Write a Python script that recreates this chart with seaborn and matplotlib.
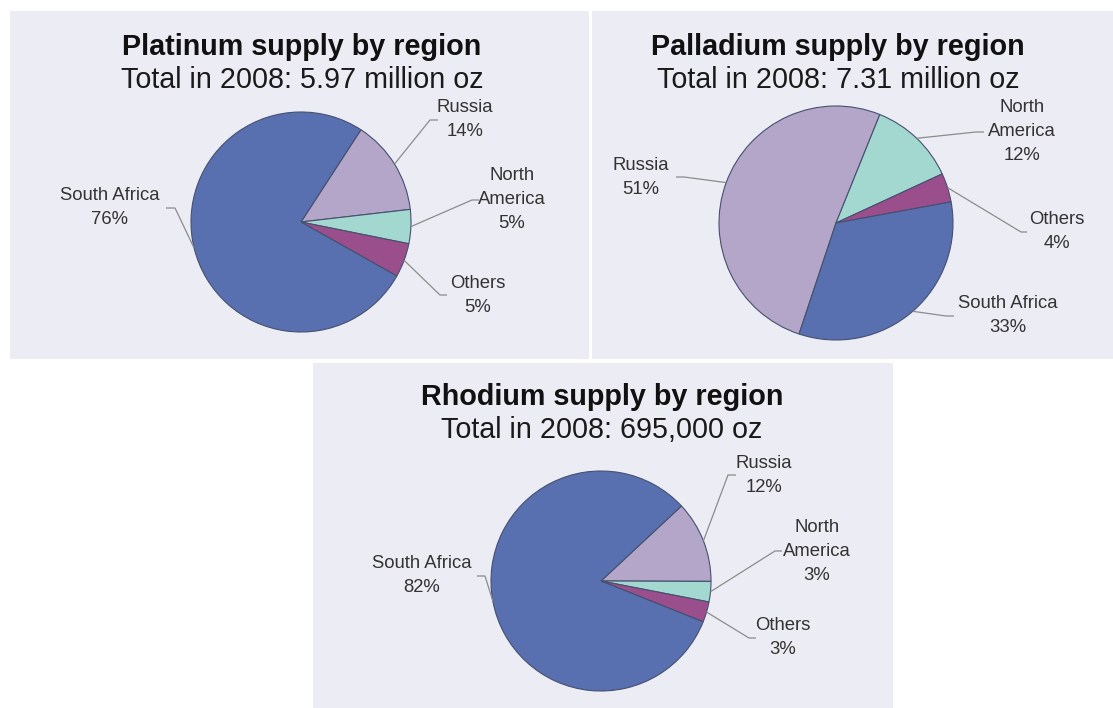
import numpy as np
import matplotlib
matplotlib.use("Agg")
import matplotlib.pyplot as plt
import seaborn as sns

# ---- data -------------------------------------------------------------
regions = ["Russia", "North America", "Others", "South Africa"]
region_labels = ["Russia", "North\nAmerica", "Others", "South Africa"]

platinum_share = [14, 5, 5, 76]
palladium_share = [51, 12, 4, 33]
rhodium_share = [12, 3, 3, 82]

titles = ["Platinum supply by region",
          "Palladium supply by region",
          "Rhodium supply by region"]
subtitles = ["Total in 2008: 5.97 million oz",
             "Total in 2008: 7.31 million oz",
             "Total in 2008: 695,000 oz"]

# ---- style ------------------------------------------------------------
sns.set_theme(style="white")
plt.rcParams["font.family"] = ["Liberation Sans", "DejaVu Sans"]

region_colors = sns.color_palette(["#B3A6C8", "#A2D8D0", "#9B4E8C", "#5870B0"])
panel_color = "#ECECF4"
edge_color = "#46506E"
leader_color = "#8C8C8C"
label_color = "#333333"

W, H = 1113, 708
fig = plt.figure(figsize=(W / 100, H / 100), dpi=100)
fig.patch.set_facecolor("white")

# layout of each panel (pixel units, origin top-left)
layouts = [
    dict(box=(10, 11, 589, 359), center=(301, 222), radius=110, start=57,
         title_x=302, title_y=47, sub_y=80,
         # label block centre (x, y), leader end x, leader elbow x
         labels=[(465, 120, 438, 430), (512, 200, 479, 472),
                 (478, 295, 447, 440), (110, 208, 166, 175)]),
    dict(box=(592, 11, 1113, 359), center=(836, 223), radius=117, start=251.6,
         title_x=838, title_y=47, sub_y=80,
         labels=[(641, 177, 676, 684), (1022, 132, 984, 976),
                 (1057, 232, 1027, 1021), (1008, 316, 954, 946)]),
    dict(box=(313, 363, 893, 708), center=(601, 581), radius=110, start=43,
         title_x=602, title_y=397, sub_y=430,
         labels=[(764, 475, 736, 728), (817, 551, 782, 775),
                 (783, 638, 756, 749), (422, 576, 477, 485)]),
]
shares = [platinum_share, palladium_share, rhodium_share]

LINE_STEP = 24  # pixel distance between label lines

for lay, share, title, sub in zip(layouts, shares, titles, subtitles):
    x0, y0, x1, y1 = lay["box"]
    pw, ph = x1 - x0, y1 - y0
    ax = fig.add_axes([x0 / W, 1 - y1 / H, pw / W, ph / H])

    def loc(x, y):
        return x - x0, y1 - y

    cx, cy = loc(*lay["center"])
    r = lay["radius"]
    wedges, _ = ax.pie(share, colors=region_colors, startangle=lay["start"],
                       counterclock=False, center=(cx, cy), radius=r,
                       wedgeprops=dict(edgecolor=edge_color, linewidth=0.8))
    ax.set_xlim(0, pw)
    ax.set_ylim(0, ph)
    ax.set_aspect("auto")
    ax.set_frame_on(True)
    ax.set_facecolor(panel_color)
    for s in ax.spines.values():
        s.set_visible(False)
    ax.set_xticks([])
    ax.set_yticks([])

    tx, ty = loc(lay["title_x"], lay["title_y"])
    ax.text(tx, ty, title, ha="center", va="center", fontsize=20.7,
            fontweight="bold", color="#111111")
    sx, sy = loc(lay["title_x"], lay["sub_y"])
    ax.text(sx, sy, sub, ha="center", va="center", fontsize=20.7,
            color="#1a1a1a")

    for w, name, val, (lx, ly, ex, bx) in zip(wedges, region_labels, share,
                                             lay["labels"]):
        lines = name.split("\n") + [f"{val}%"]
        n = len(lines)
        for i, line in enumerate(lines):
            px, py = loc(lx, ly + (i - (n - 1) / 2) * LINE_STEP)
            ax.text(px, py, line, ha="center", va="center", fontsize=13.3,
                    color=label_color)
        mid = np.deg2rad((w.theta1 + w.theta2) / 2)
        edge = (cx + r * np.cos(mid), cy + r * np.sin(mid))
        bxl, byl = loc(bx, ly)
        exl, _ = loc(ex, ly)
        ax.plot([edge[0], bxl, exl], [edge[1], byl, byl],
                color=leader_color, lw=0.9, solid_capstyle="butt")

fig.savefig("out.png", dpi=100, facecolor="white")
